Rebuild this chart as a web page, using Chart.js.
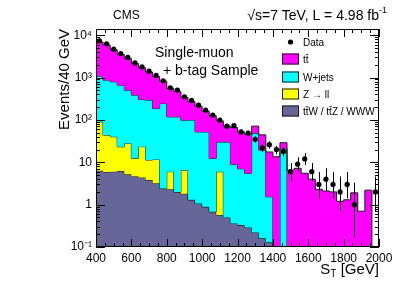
<!DOCTYPE html>
<html>
<head>
<meta charset="utf-8">
<script src="https://cdn.jsdelivr.net/npm/chart.js@4.4.0/dist/chart.umd.min.js"></script>
<style>
html, body { margin: 0; padding: 0; background: #fff; }
#wrap { width: 399px; height: 286px; }
</style>
</head>
<body>
<div id="wrap"><canvas id="mycanvas" width="399" height="286"></canvas></div>
<script>
// bin low edges (GeV), 40 GeV bins, last edge 2000
var binLow = [400, 440, 480, 520, 560, 600, 640, 680, 720, 760,
              800, 840, 880, 920, 960, 1000, 1040, 1080, 1120, 1160,
              1200, 1240, 1280, 1320, 1360, 1400, 1440, 1480, 1520, 1560,
              1600, 1640, 1680, 1720, 1760, 1800, 1840, 1880, 1920, 1960];
var lastEdge = 2000;

// stacked MC components, events / 40 GeV
var ttwww = [6.3, 5.9, 6.0, 6.2, 5.2, 4.7, 4.4, 3.8, 3.2, 2.4,
             2.3, 2.0, 1.8, 1.3, 1.07, 0.89, 0.68, 0.57, 0.5, 0.36,
             0.33, 0.29, 0.22, 0.16, 0.13, 0, 0, 0, 0, 0,
             0, 0, 0, 0, 0, 0, 0, 0, 0, 0];
var zll = [84, 38, 34, 17, 23, 7.7, 19, 7.5, 8.5, 0,
           3.7, 0, 4.7, 0, 0, 0, 0, 5.4, 0, 0,
           0, 0, 0, 0, 0, 0, 0, 0, 0, 0,
           0, 0, 0, 0, 0, 0, 0, 0, 0, 0];
var wjets = [990, 825, 753, 639, 477, 373, 280, 282, 175, 243,
             112, 116, 92, 98, 51, 51, 11.7, 24, 29.5, 8.6,
             6.7, 5.2, 48, 19.2, 1.4, 0, 21, 0, 0, 0,
             0, 0, 0, 0, 0, 0, 0, 0, 0, 0];
var ttbar = [5820, 5030, 3710, 2840, 2300, 1770, 1400, 1060, 870, 575,
             440, 350, 240, 170, 158, 108, 113, 65, 42, 57,
             45, 40, 23, 25, 16, 13.5, 8, 6.5, 7.2, 5.5,
             4.0, 2.3, 2.1, 2.0, 1.2, 1.3, 1.9, 0.7, 2.2, 0];

// data with error bars (down / up)
var dataVals = [7350, 6240, 4680, 3700, 2980, 2220, 1790, 1415, 1120, 836,
                571, 505, 351, 288, 223, 170, 130, 99, 71, 73,
                52, 49, 35, 22, 26, 20, 18, 6, 9, 12,
                6, 3, 4, 3, 2, 3, 1, 0, 0, 2];
var errDown = [86, 79, 68, 61, 55, 47, 42, 38, 33, 29,
               24, 22, 19, 17, 15, 13, 11.4, 10, 8.4, 8.5,
               7.2, 7, 5.9, 4.7, 5.1, 4.5, 4.2, 2.4, 2.9, 3.4,
               2.4, 1.6, 1.9, 1.6, 1.3, 1.6, 0.83, 0, 0, 1.3];
var errUp = [86, 79, 68, 61, 55, 47, 42, 38, 33, 29,
             24, 22, 19, 17, 15, 13, 11.4, 10, 8.4, 8.5,
             7.2, 7, 5.9, 4.7, 5.1, 4.5, 4.2, 3.6, 4.1, 4.6,
             3.6, 2.9, 3.2, 2.9, 2.6, 2.9, 2.3, 0, 0, 2.6];

var yDecades = [0.1, 1, 10, 100, 1000, 10000];
var yDecadeLabels = ['10\u207B\u00B9', '1', '10', '10\u00B2', '10\u00B3', '10\u2074'];

var font = '"Liberation Sans", Arial, Helvetica, sans-serif';

// running sums for the stack
function cumulative(parts) {
    var out = [];
    for (var i = 0; i < binLow.length; i++) {
        var s = 0;
        for (var p = 0; p < parts.length; p++) s += parts[p][i];
        out.push(s);
    }
    return out;
}
// empty bins go far below the axis (log scale drops zeros)
function stepPoints(vals) {
    var pts = [];
    for (var i = 0; i < binLow.length; i++) pts.push({x: binLow[i], y: vals[i] > 0 ? vals[i] : 1e-4});
    var last = vals[vals.length - 1];
    pts.push({x: lastEdge, y: last > 0 ? last : 1e-4});
    return pts;
}

var stack1 = cumulative([ttwww]);
var stack2 = cumulative([ttwww, zll]);
var stack3 = cumulative([ttwww, zll, wjets]);
var stack4 = cumulative([ttwww, zll, wjets, ttbar]);

var dataPts = [];
for (var i = 0; i < binLow.length; i++) {
    dataPts.push({x: binLow[i] + 20, y: dataVals[i] > 0 ? dataVals[i] : null});
}

var edge = '#1a1a1a';

var rootStyle = {
    id: 'rootStyle',
    afterDatasetsDraw: function(chart) {
        var ctx = chart.ctx;
        var xs = chart.scales.x, ys = chart.scales.y;
        var a = chart.chartArea;
        ctx.save();
        // error bars
        ctx.strokeStyle = '#000';
        ctx.lineWidth = 1;
        for (var i = 0; i < dataVals.length; i++) {
            if (!(dataVals[i] > 0)) continue;
            var px = Math.round(xs.getPixelForValue(binLow[i] + 20)) + 0.5;
            var lo = dataVals[i] - errDown[i];
            var yLo = lo > 0 ? ys.getPixelForValue(lo) : a.bottom;
            var yHi = ys.getPixelForValue(dataVals[i] + errUp[i]);
            ctx.beginPath();
            ctx.moveTo(px, Math.min(yLo, a.bottom));
            ctx.lineTo(px, Math.max(yHi, a.top));
            ctx.stroke();
        }
        ctx.fillStyle = '#000';
        for (var j = 0; j < dataVals.length; j++) {
            if (!(dataVals[j] > 0)) continue;
            ctx.beginPath();
            ctx.arc(xs.getPixelForValue(binLow[j] + 20), ys.getPixelForValue(dataVals[j]), 2.6, 0, Math.PI * 2);
            ctx.fill();
        }
        ctx.restore();
    },
    afterDraw: function(chart) {
        var ctx = chart.ctx;
        var xs = chart.scales.x, ys = chart.scales.y;
        var a = chart.chartArea;
        ctx.save();
        // frame
        ctx.strokeStyle = '#000';
        ctx.lineWidth = 1;
        ctx.strokeRect(a.left + 0.5, a.top + 0.5, a.right - a.left - 1, a.bottom - a.top - 1);
        // x ticks, major every 200, minor every 50
        ctx.beginPath();
        for (var v = 400; v <= 2000; v += 50) {
            var px = Math.round(xs.getPixelForValue(v)) + 0.5;
            var len = (v % 200 === 0) ? 8 : 4;
            ctx.moveTo(px, a.bottom); ctx.lineTo(px, a.bottom - len);
            ctx.moveTo(px, a.top); ctx.lineTo(px, a.top + len);
        }
        // y ticks, log
        for (var d = 0; d < yDecades.length; d++) {
            for (var m = 1; m <= 9; m++) {
                var val = yDecades[d] * m;
                if (val > ys.max) break;
                var py = Math.round(ys.getPixelForValue(val)) + 0.5;
                var l = (m === 1) ? 9 : 4;
                ctx.moveTo(a.left, py); ctx.lineTo(a.left + l, py);
                ctx.moveTo(a.right, py); ctx.lineTo(a.right - l, py);
            }
        }
        ctx.stroke();

        ctx.fillStyle = '#000';
        ctx.textBaseline = 'middle';
        // header
        ctx.font = '12px ' + font;
        ctx.textAlign = 'left';
        ctx.fillText('CMS', 113, 16);
        ctx.font = '14px ' + font;
        ctx.textAlign = 'right';
        ctx.fillText('\u221As=7 TeV, L = 4.98 fb', 379, 16);
        ctx.font = '9px ' + font;
        ctx.textAlign = 'left';
        ctx.fillText('-1', 379, 11);
        // sample label
        ctx.font = '14px ' + font;
        ctx.fillText('Single-muon', 155, 53);
        ctx.fillText('+ b-tag Sample', 163, 71);
        // axis titles
        ctx.font = '15px ' + font;
        ctx.textAlign = 'right';
        ctx.fillText(' [GeV]', 379, 270);
        var w1 = ctx.measureText(' [GeV]').width;
        ctx.font = '10px ' + font;
        var wT = ctx.measureText('T').width;
        ctx.fillText('T', 379 - w1, 274);
        ctx.font = '15px ' + font;
        ctx.fillText('S', 379 - w1 - wT, 270);
        ctx.save();
        ctx.translate(65, 29);
        ctx.rotate(-Math.PI / 2);
        ctx.textAlign = 'right';
        ctx.fillText('Events/40 GeV', 0, 0);
        ctx.restore();

        // legend
        var items = [
            {label: 'tt\u0304', color: '#ff00ff', y: 59},
            {label: 'W+jets', color: '#00ffff', y: 77},
            {label: 'Z \u2192 ll', color: '#ffff00', y: 94},
            {label: 'tt\u0304W / tt\u0304Z / WWW', color: '#666699', y: 111}
        ];
        ctx.font = '10px ' + font;
        ctx.textAlign = 'left';
        ctx.beginPath();
        ctx.arc(290.5, 42, 2.6, 0, Math.PI * 2);
        ctx.fill();
        ctx.fillText('Data', 303, 43);
        items.forEach(function(it) {
            ctx.fillStyle = it.color;
            ctx.fillRect(282, it.y - 5.5, 17, 11);
            ctx.strokeStyle = edge;
            ctx.strokeRect(282.5, it.y - 5, 16, 10);
            ctx.fillStyle = '#000';
            ctx.fillText(it.label, 303, it.y + 1);
        });
        ctx.restore();
    }
};

var ctx = document.getElementById('mycanvas');

var lineBase = {
    type: 'line',
    stepped: 'before',
    borderColor: edge,
    borderWidth: 1,
    pointRadius: 0,
    tension: 0
};

var chart = new Chart(ctx, {
    type: 'line',
    data: {
        datasets: [
            Object.assign({}, lineBase, {label: 'ttW / ttZ / WWW', data: stepPoints(stack1), backgroundColor: '#666699', fill: 'start', order: 4}),
            Object.assign({}, lineBase, {label: 'Z -> ll', data: stepPoints(stack2), backgroundColor: '#ffff00', fill: '-1', order: 3}),
            Object.assign({}, lineBase, {label: 'W+jets', data: stepPoints(stack3), backgroundColor: '#00ffff', fill: '-1', order: 2}),
            Object.assign({}, lineBase, {label: 'ttbar', data: stepPoints(stack4), backgroundColor: '#ff00ff', fill: '-1', order: 1}),
            {
                type: 'scatter', label: 'Data', data: dataPts,
                pointRadius: 0, showLine: false, order: 0
            }
        ]
    },
    options: {
        responsive: false,
        animation: false,
        devicePixelRatio: 1,
        layout: { padding: { left: 0, right: 20, top: 29, bottom: 0 } },
        plugins: { legend: { display: false }, tooltip: { enabled: false } },
        scales: {
            x: {
                type: 'linear', min: 400, max: 2000,
                grid: { display: false, drawTicks: false },
                border: { display: false },
                afterFit: function(s) { s.height = 39; },
                ticks: {
                    stepSize: 200, padding: 4, color: '#000', maxRotation: 0,
                    font: { family: font, size: 12 },
                    callback: function(v) { return String(v); }
                }
            },
            y: {
                type: 'logarithmic', min: 0.1, max: 14000,
                grid: { display: false, drawTicks: false },
                border: { display: false },
                afterFit: function(s) { s.width = 96; },
                afterBuildTicks: function(s) {
                    s.ticks = yDecades.map(function(v) { return {value: v}; });
                },
                ticks: {
                    padding: 4, color: '#000',
                    font: { family: font, size: 12 },
                    callback: function(v) {
                        var k = yDecades.indexOf(v);
                        return k >= 0 ? yDecadeLabels[k] : '';
                    }
                }
            }
        }
    },
    plugins: [rootStyle]
});
</script>
</body>
</html>
